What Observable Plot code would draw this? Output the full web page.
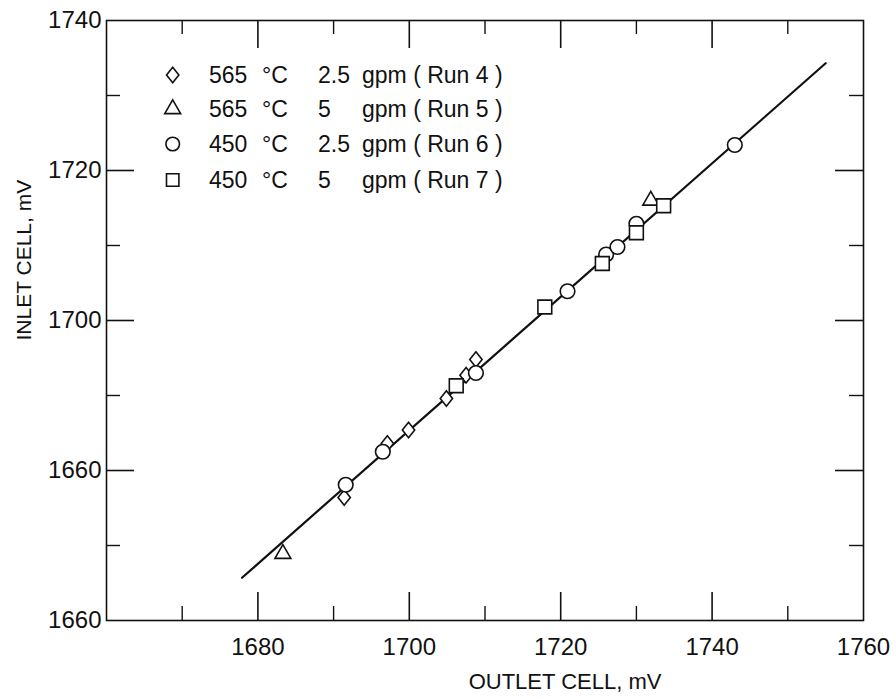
<!DOCTYPE html>
<html><head><meta charset="utf-8">
<script src="https://cdn.jsdelivr.net/npm/d3@7"></script>
<script src="https://cdn.jsdelivr.net/npm/@observablehq/plot@0.6"></script>
<style>
body{margin:0;background:#fff;}
#wrap{position:relative;width:896px;height:699px;}
#legend{position:absolute;left:0;top:0;pointer-events:none;}
</style></head><body><div id="wrap"></div>
<script>
// ---- tick values & labels ----
const xMajorTicks = [1680, 1700, 1720, 1740, 1760];
const xMinorTicks = [1670, 1690, 1710, 1730, 1750];
const yMajorTicks = [1660, 1680, 1700, 1720, 1740];
const yTickLabels = ["1660", "1660", "1700", "1720", "1740"];
const yMinorTicks = [1670, 1690, 1710, 1730];

// ---- series (outlet cell mV, inlet cell mV) ----
const run4Outlet = [1691.4, 1697.1, 1699.9, 1704.9, 1707.5, 1708.8];
const run4Inlet  = [1676.4, 1683.6, 1685.4, 1689.6, 1692.7, 1694.8];
const run5Outlet = [1683.3, 1731.9];
const run5Inlet  = [1668.9, 1716.0];
const run6Outlet = [1691.6, 1696.5, 1708.8, 1720.9, 1726.0, 1727.5, 1730.0, 1743.0];
const run6Inlet  = [1678.1, 1682.5, 1693.0, 1703.9, 1708.8, 1709.8, 1712.9, 1723.4];
const run7Outlet = [1706.2, 1717.9, 1725.5, 1730.0, 1733.6];
const run7Inlet  = [1691.3, 1701.8, 1707.6, 1711.7, 1715.3];
const fitOutlet = [1677.9, 1755.0];
const fitInlet  = [1665.7, 1734.3];

const legendLabels = [
  ["565", "°C", "2.5", "gpm ( Run 4 )"],
  ["565", "°C", "5",   "gpm ( Run 5 )"],
  ["450", "°C", "2.5", "gpm ( Run 6 )"],
  ["450", "°C", "5",   "gpm ( Run 7 )"]
];

const toPts = (xs, ys) => xs.map((x, i) => ({x, y: ys[i]}));

const diamond = {
  draw(ctx, size) {
    const h = Math.sqrt(size / 1.6), w = h * 0.8;
    ctx.moveTo(0, -h); ctx.lineTo(w, 0); ctx.lineTo(0, h); ctx.lineTo(-w, 0); ctx.closePath();
  }
};

const W = 896, H = 699;
const mL = 106, mR = 33, mT = 20, mB = 79;
const innerW = W - mL - mR, innerH = H - mT - mB;
const majorLen = 28, minorLen = 14;
const FONT = "'Liberation Sans', Arial, sans-serif";
const ink = "#111";

const dotStyle = {fill: "white", stroke: ink, strokeWidth: 1.6};

const chart = Plot.plot({
  width: W, height: H,
  marginLeft: mL, marginRight: mR, marginTop: mT, marginBottom: mB,
  style: {fontFamily: FONT, fontSize: "24px", color: ink, background: "white"},
  x: {domain: [1660, 1760], ticks: xMajorTicks, tickSize: 0, tickPadding: 17, tickFormat: d => String(d), label: null},
  y: {domain: [1660, 1740], ticks: yMajorTicks, tickSize: 0, tickPadding: 5,
      tickFormat: d => yTickLabels[yMajorTicks.indexOf(d)], label: null},
  marks: [
    Plot.frame({stroke: ink, strokeWidth: 1.6}),
    // bottom & top ticks
    Plot.tickX(xMajorTicks.slice(0, -1), {x: d => d, insetTop: innerH - majorLen, stroke: ink, strokeWidth: 1.6}),
    Plot.tickX(xMinorTicks, {x: d => d, insetTop: innerH - minorLen, stroke: ink, strokeWidth: 1.4}),
    Plot.tickX(xMajorTicks.slice(0, -1), {x: d => d, insetBottom: innerH - majorLen, stroke: ink, strokeWidth: 1.6}),
    Plot.tickX(xMinorTicks, {x: d => d, insetBottom: innerH - minorLen, stroke: ink, strokeWidth: 1.4}),
    // left & right ticks
    Plot.tickY(yMajorTicks.slice(1, -1), {y: d => d, insetRight: innerW - majorLen, stroke: ink, strokeWidth: 1.6}),
    Plot.tickY(yMinorTicks, {y: d => d, insetRight: innerW - minorLen, stroke: ink, strokeWidth: 1.4}),
    Plot.tickY(yMajorTicks.slice(1, -1), {y: d => d, insetLeft: innerW - majorLen, stroke: ink, strokeWidth: 1.6}),
    Plot.tickY(yMinorTicks, {y: d => d, insetLeft: innerW - minorLen, stroke: ink, strokeWidth: 1.4}),
    // fit line
    Plot.line(toPts(fitOutlet, fitInlet), {x: "x", y: "y", stroke: ink, strokeWidth: 2.2}),
    // data
    Plot.dot(toPts(run4Outlet, run4Inlet), {x: "x", y: "y", symbol: diamond, r: 5.5, ...dotStyle}),
    Plot.dot(toPts(run5Outlet, run5Inlet), {x: "x", y: "y", symbol: "triangle", r: 5.9, ...dotStyle}),
    Plot.dot(toPts(run6Outlet, run6Inlet), {x: "x", y: "y", symbol: "circle", r: 7.3, ...dotStyle}),
    Plot.dot(toPts(run7Outlet, run7Inlet), {x: "x", y: "y", symbol: "square", r: 7.8, ...dotStyle}),
    // axis titles
    Plot.text(["OUTLET CELL, mV"], {text: d => d, frameAnchor: "bottom", dx: 80, dy: 68, fontSize: 22, fill: ink}),
    Plot.text(["INLET CELL, mV"], {text: d => d, frameAnchor: "left", dx: -82, dy: 20, rotate: -90, fontSize: 21, fill: ink})
  ]
});

const wrap = document.getElementById("wrap");
wrap.appendChild(chart);

// legend overlay
const legendSymbols = [diamond, d3.symbolTriangle, d3.symbolCircle, d3.symbolSquare];
const legendR = [5.5, 5.9, 6.8, 7.0];
const svg = d3.select(wrap).append("svg").attr("id", "legend").attr("width", W).attr("height", H);
const rowY = [75, 109, 144, 180];
const colX = [209, 262, 318, 362];
legendLabels.forEach((row, i) => {
  svg.append("path")
    .attr("d", d3.symbol(legendSymbols[i], Math.PI * legendR[i] * legendR[i])())
    .attr("transform", `translate(172.7,${rowY[i]})`)
    .attr("fill", "white").attr("stroke", ink).attr("stroke-width", 1.6);
  row.forEach((t, j) => {
    svg.append("text").attr("x", colX[j]).attr("y", rowY[i]).attr("dy", "0.36em")
      .attr("font-family", FONT).attr("font-size", 23).attr("fill", ink).text(t);
  });
});
</script></body></html>
